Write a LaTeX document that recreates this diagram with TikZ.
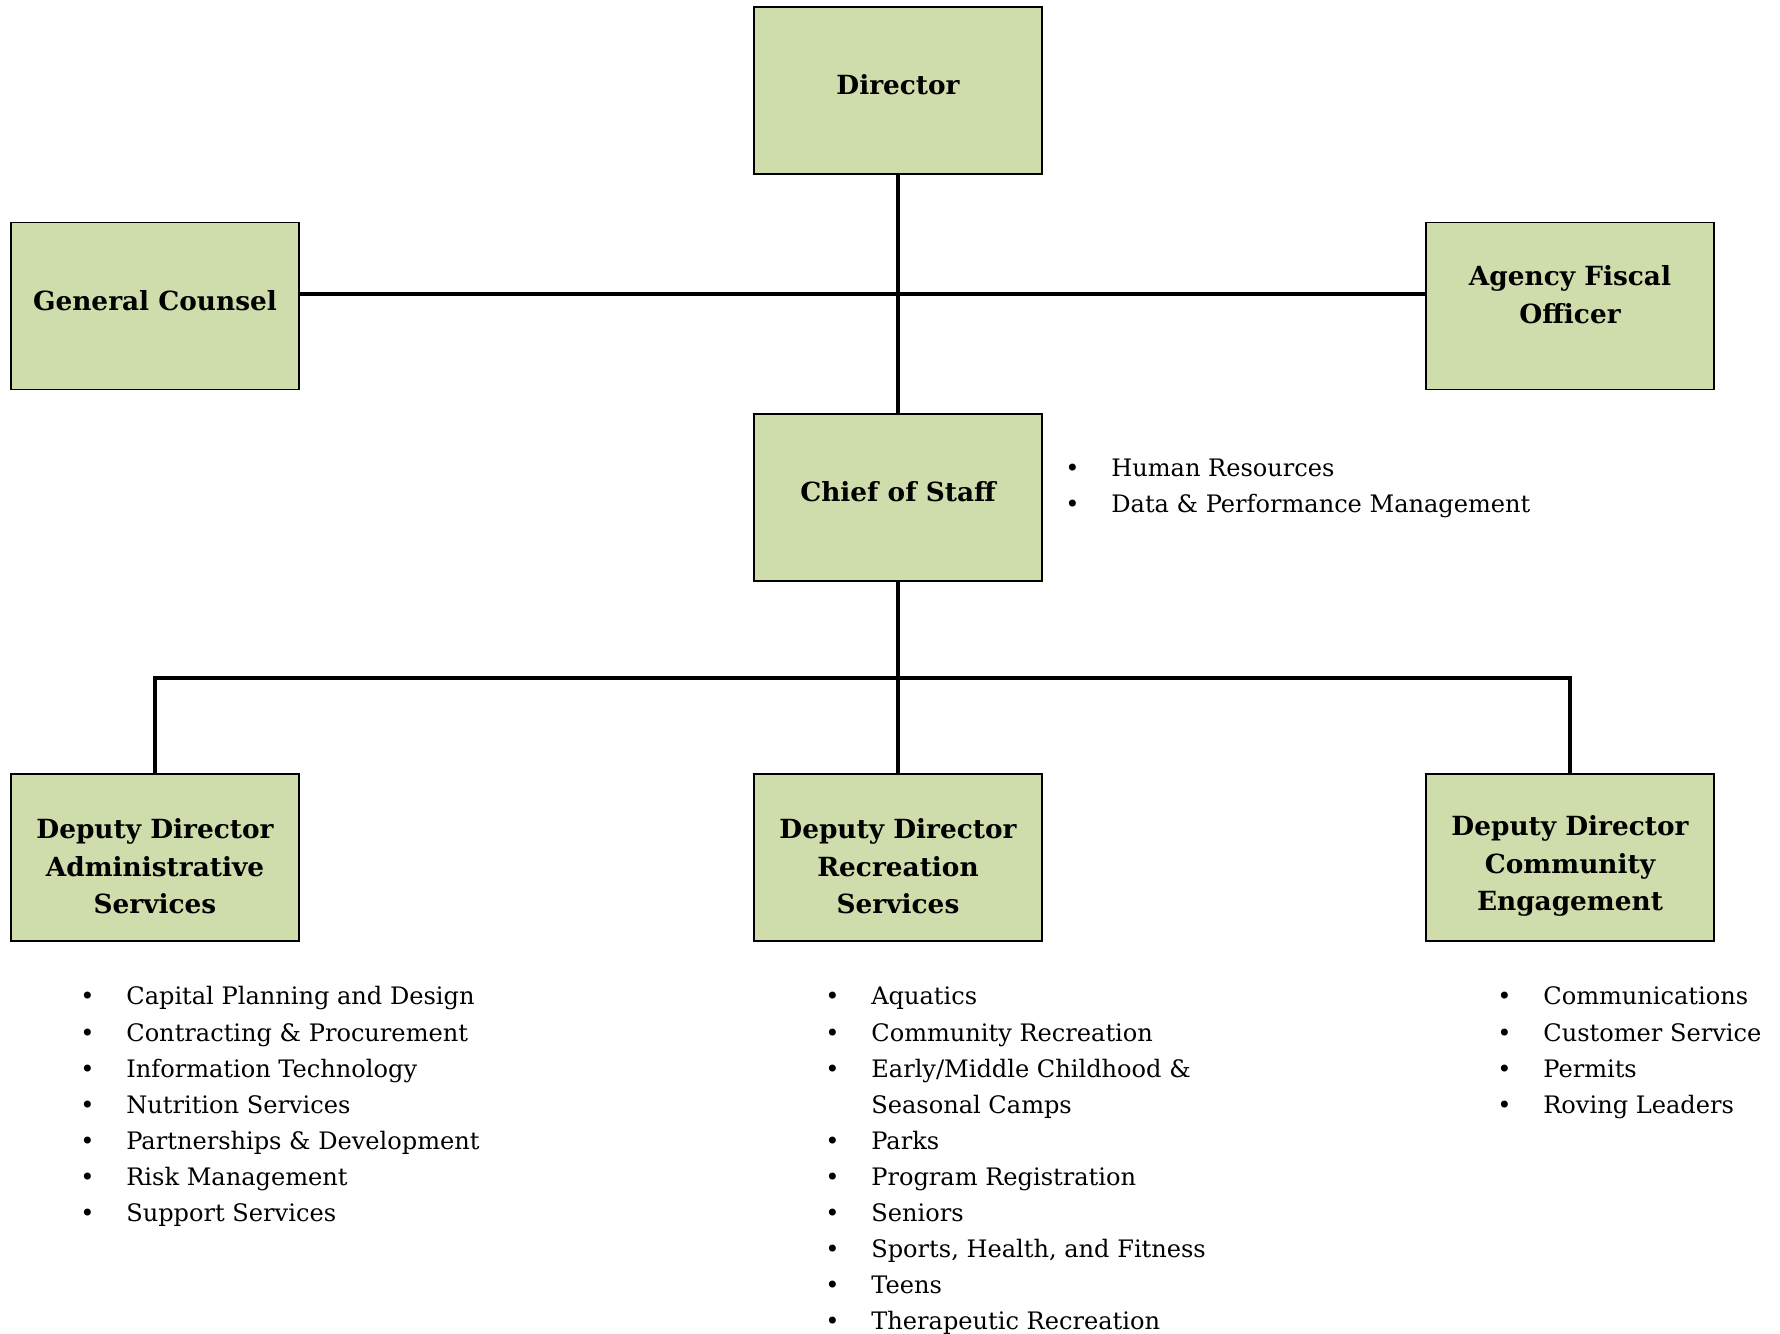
\documentclass[tikz,border=0pt]{standalone}
\usepackage{fontspec}
\setmainfont{DejaVu Serif}
\usetikzlibrary{positioning}

\definecolor{boxgreen}{RGB}{207,220,171}

\newcommand{\dutyrow}[1]{\makebox[0.92cm][l]{\textbullet}#1\\}
\newcommand{\firstline}{\rule{0pt}{0.75cm}}

\tikzset{
  unitbox/.style={draw=black, line width=1pt, fill=boxgreen,
    minimum width=5.76cm, minimum height=3.34cm, align=center,
    font=\bfseries\fontsize{15}{21.3}\selectfont},
  dutylist/.style={anchor=base west, inner sep=0pt,
    font=\fontsize{13.7}{20.5}\selectfont},
  orgline/.style={line width=2.4pt}
}

\begin{document}
\begin{tikzpicture}

\useasboundingbox (0,0) rectangle (35.6,26.68);

% top row
\node[unitbox, text depth=0.22cm] (director) at (17.96,24.87) {Director};
\node[unitbox, text depth=0.22cm] (counsel) at (3.1,20.56) {General Counsel};
\node[unitbox, text depth=0.46cm] (fiscal) at (31.4,20.56) {Agency Fiscal\\Officer};
\node[unitbox, text depth=0.22cm] (chief) at (17.96,16.73) {Chief of Staff};

% deputies
\node[unitbox] (depadmin) at (3.1,9.53) {\firstline Deputy Director\\Administrative\\Services};
\node[unitbox] (deprec) at (17.96,9.53) {\firstline Deputy Director\\Recreation\\Services};
\node[unitbox] (depcomm) at (31.4,9.53) {\firstline Deputy Director\\Community\\Engagement};

\coordinate (hub) at (17.96,20.8);
\coordinate (bus) at (17.96,13.12);

\draw[orgline] (director.south) -- (chief.north);
\draw[orgline] (counsel.east |- hub) -- (fiscal.west |- hub);
\draw[orgline] (chief.south) -- (deprec.north);
\draw[orgline] (depadmin.north) -- (depadmin.north |- bus) -- (depcomm.north |- bus) -- (depcomm.north);

% duties
\node[dutylist] (chieflist) at (21.3,17.15) {\begin{tabular}[t]{@{}l@{}}
\dutyrow{Human Resources}
\dutyrow{Data \& Performance Management}
\end{tabular}};

\node[dutylist] (adminlist) at (1.6,6.58) {\begin{tabular}[t]{@{}l@{}}
\dutyrow{Capital Planning and Design}
\dutyrow{Contracting \& Procurement}
\dutyrow{Information Technology}
\dutyrow{Nutrition Services}
\dutyrow{Partnerships \& Development}
\dutyrow{Risk Management}
\dutyrow{Support Services}
\end{tabular}};

\node[dutylist] (reclist) at (16.5,6.58) {\begin{tabular}[t]{@{}l@{}}
\dutyrow{Aquatics}
\dutyrow{Community Recreation}
\dutyrow{Early/Middle Childhood \&}
\hspace*{0.92cm}Seasonal Camps\\
\dutyrow{Parks}
\dutyrow{Program Registration}
\dutyrow{Seniors}
\dutyrow{Sports, Health, and Fitness}
\dutyrow{Teens}
\dutyrow{Therapeutic Recreation}
\end{tabular}};

\node[dutylist] (commlist) at (29.94,6.58) {\begin{tabular}[t]{@{}l@{}}
\dutyrow{Communications}
\dutyrow{Customer Service}
\dutyrow{Permits}
\dutyrow{Roving Leaders}
\end{tabular}};

\end{tikzpicture}
\end{document}
